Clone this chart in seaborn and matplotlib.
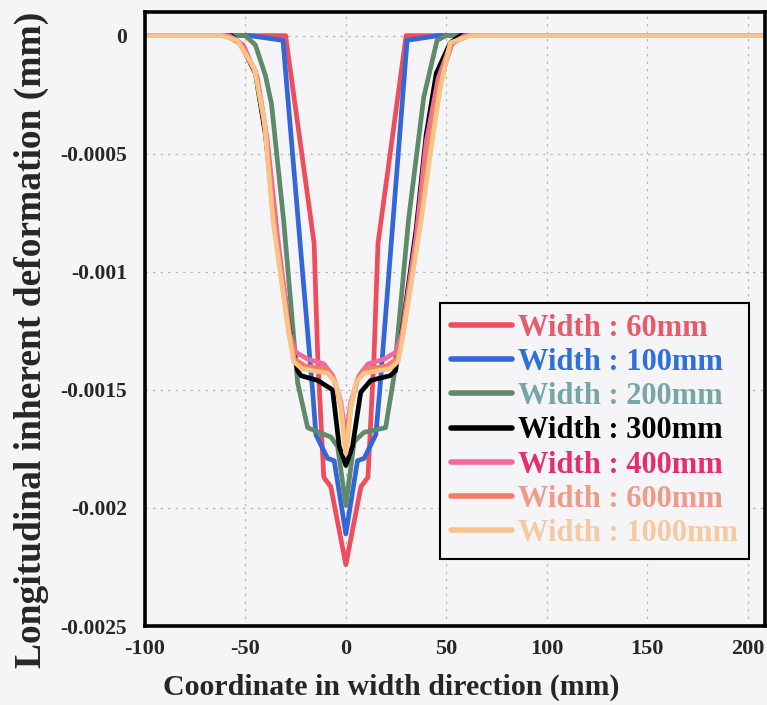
import matplotlib
matplotlib.use("Agg")
import matplotlib.pyplot as plt
import seaborn as sns
import pandas as pd

# Plate widths and their curve / legend colours
widths = ["60mm", "100mm", "200mm", "300mm", "400mm", "600mm", "1000mm"]
line_colors = ["#ef4c5c", "#3366d6", "#5e8a6a", "#000000", "#f2679c", "#f27d66", "#f9c386"]
text_colors = ["#e65a6a", "#2f6fd8", "#78a6a6", "#000000", "#e2306c", "#f09a88", "#f7c9a0"]

# Coordinate in width direction (mm) and deformation (mm) per plate width
x_60 = [-100, -30, -15.8, -14, -11, -7.5, 0, 7.5, 11, 14, 16, 30, 208]
y_60 = [0, 0, -0.00088, -0.00136, -0.00187, -0.00191, -0.00224,
        -0.00191, -0.00187, -0.00136, -0.00088, 0, 0]

x_100 = [-100, -48, -31.3, -16.5, -14.9, -9.1, -5.8, 0, 5.8, 9.1, 14.9, 16.8, 30.5, 46, 208]
y_100 = [0, 0, -0.00002, -0.00151, -0.00169, -0.00179, -0.0018, -0.00211,
         -0.0018, -0.00179, -0.00169, -0.00151, -0.00002, 0, 0]

x_200 = [-100, -50, -45, -40, -37, -31, -24, -19, -7.4, -4.1, 0,
         4.1, 9, 19.8, 24, 31.2, 38.8, 45.4, 50, 208]
y_200 = [0, 0, -0.00004, -0.00017, -0.00029, -0.00078, -0.00147, -0.00166, -0.0017, -0.00174, -0.00199,
         -0.00172, -0.00168, -0.00166, -0.00144, -0.00078, -0.00026, -0.00002, 0, 0]

x_300 = [-100, -57, -52, -45, -40, -35, -28, -24, -22.3, -14, -6.6, -3.3, 0,
         3.3, 7.4, 12.4, 22, 24.7, 28, 35, 40, 45, 52, 57, 208]
y_300 = [0, 0, -0.00004, -0.00016, -0.00042, -0.00082, -0.00125, -0.00142, -0.00144, -0.00146, -0.0015, -0.00174, -0.00182,
         -0.00174, -0.00151, -0.00146, -0.00144, -0.00142, -0.00125, -0.00082, -0.00042, -0.00016, -0.00003, 0, 0]

x_400 = [-100, -58, -51, -44, -39, -34, -28, -25, -19, -11, -6.5, -2.5, 0,
         2.5, 6.5, 11, 19, 25, 28, 35, 40, 46, 52, 59, 208]
y_400 = [0, 0, -0.00004, -0.00018, -0.00045, -0.00085, -0.00126, -0.00134, -0.00137, -0.00139, -0.00144, -0.00155, -0.0017,
         -0.00155, -0.00144, -0.00139, -0.00137, -0.00134, -0.00126, -0.00085, -0.00045, -0.00018, -0.00004, 0, 0]

x_600 = [-100, -60, -53, -45, -40, -35.5, -28.3, -25.5, -20, -10, -5.5, -2.5, 0,
         2.5, 5.5, 10, 20, 25.5, 28.5, 36.5, 41, 46.5, 53, 61, 208]
y_600 = [0, 0, -0.00003, -0.00015, -0.0004, -0.00081, -0.00126, -0.00137, -0.0014, -0.00141, -0.00146, -0.00157, -0.00174,
         -0.00157, -0.00146, -0.00141, -0.0014, -0.00137, -0.00126, -0.00081, -0.00046, -0.0002, -0.00003, 0, 0]

x_1000 = [-100, -62, -54, -45.5, -40.6, -36.3, -28.4, -26, -22, -9, -5, -2.5, -1, 0,
          1, 2.5, 5, 9, 22, 26, 28.6, 37.5, 42, 47, 52, 62, 208]
y_1000 = [0, 0, -0.00002, -0.00014, -0.00036, -0.00078, -0.00126, -0.00138, -0.00141, -0.00143, -0.00147, -0.00157, -0.0017, -0.00177,
          -0.0017, -0.00157, -0.00147, -0.00143, -0.00141, -0.00138, -0.00126, -0.00078, -0.0005, -0.00022, -0.00003, 0, 0]

x_ticks = [-100, -50, 0, 50, 100, 150, 200]
y_ticks = [0, -0.0005, -0.001, -0.0015, -0.002, -0.0025]
y_tick_labels = ["0", "-0.0005", "-0.001", "-0.0015", "-0.002", "-0.0025"]

xs = [x_60, x_100, x_200, x_300, x_400, x_600, x_1000]
ys = [y_60, y_100, y_200, y_300, y_400, y_600, y_1000]
frames = []
for w, xv, yv in zip(widths, xs, ys):
    frames.append(pd.DataFrame({"x": xv, "y": yv, "width": "Width : " + w}))
df = pd.concat(frames, ignore_index=True)
labels = ["Width : " + w for w in widths]

sns.set_theme(style="white")
serif = ["Liberation Serif", "DejaVu Serif"]
plt.rcParams["font.family"] = serif
plt.rcParams["font.weight"] = "bold"

bg = "#f5f5f8"
fig = plt.figure(figsize=(7.67, 7.05), dpi=100, facecolor=bg)
ax = fig.add_axes([0.189, 0.112, 0.808, 0.871])
ax.set_facecolor(bg)

sns.lineplot(data=df, x="x", y="y", hue="width", hue_order=labels,
             palette=dict(zip(labels, line_colors)), sort=False,
             estimator=None, units="width", linewidth=3.4, ax=ax)

ax.set_xlim(-100, 208.5)
ax.set_ylim(-0.0025, 0.0001)
ax.set_xticks(x_ticks)
ax.set_xticklabels([str(t) for t in x_ticks], fontsize=16, fontweight="bold")
ax.set_yticks(y_ticks)
ax.set_yticklabels(y_tick_labels, fontsize=15.5, fontweight="bold")
ax.tick_params(axis="y", length=0, pad=13)
ax.tick_params(axis="x", length=0, pad=9)
ax.grid(True, color="#b8b8b8", linestyle=(0, (2, 4)), linewidth=0.9)
for s in ax.spines.values():
    s.set_color("black")
    s.set_linewidth(2.6)

ax.set_xlabel("")
ax.set_ylabel("")
fig.text(391 / 767, 1 - 687 / 705, "Coordinate in width direction (mm)",
         fontsize=21.5, fontweight="bold", ha="center", va="center")
fig.text(31 / 767, 1 - 340 / 705, "Longitudinal inherent deformation (mm)",
         fontsize=27, fontweight="bold", ha="center", va="center",
         rotation=90)

leg = ax.legend(loc="upper left", bbox_to_anchor=(0.476, 0.526),
                fontsize=22, frameon=True, fancybox=False, edgecolor="black",
                facecolor=bg, framealpha=1, handlelength=2.0,
                handletextpad=0.2, labelspacing=0.17, borderpad=0.35,
                borderaxespad=0)
leg.get_frame().set_linewidth(1.5)
for t, c in zip(leg.get_texts(), text_colors):
    t.set_color(c)
    t.set_fontweight("bold")
for h in leg.get_lines():
    h.set_linewidth(4)

fig.savefig("out.png", dpi=100, facecolor=bg)
